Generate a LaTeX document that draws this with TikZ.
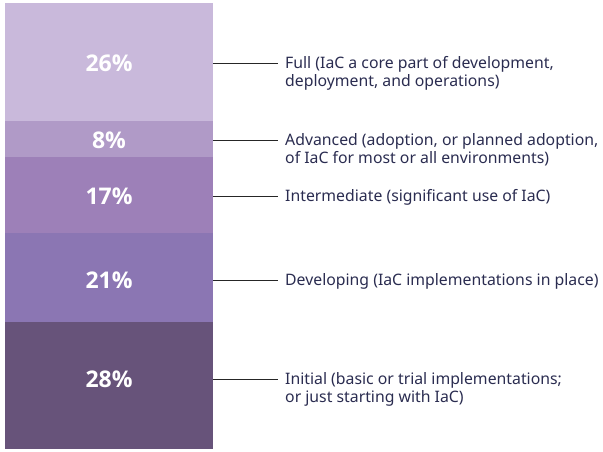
\documentclass[tikz,border=0pt]{standalone}
\usepackage{fontspec}
\setmainfont{Noto Sans}
\newfontfamily\pctfont{Open Sans}
\definecolor{lvFull}{HTML}{C9B9DB}
\definecolor{lvAdv}{HTML}{B09AC7}
\definecolor{lvInt}{HTML}{9D80B8}
\definecolor{lvDev}{HTML}{8B76B3}
\definecolor{lvIni}{HTML}{67537A}
\definecolor{lbltext}{HTML}{2A2C50}
\tikzset{
 bar/.style={rectangle, inner sep=0pt, outer sep=0pt, minimum width=208pt, anchor=north west},
 pct/.style={text=white, font=\pctfont\fontsize{23}{26}\selectfont\bfseries},
 leader/.style={draw=black!85, line width=0.8pt},
 lbl/.style={anchor=north west, inner sep=0pt, align=left, text=lbltext, font=\fontsize{15.8}{18}\selectfont}
}
\begin{document}
\begin{tikzpicture}[x=1pt, y=-1pt]
 \useasboundingbox (0,0) rectangle (603,451);
 \foreach \top/\bot/\col/\num/\ly/\txt [count=\i] in {
 3/121/lvFull/26/63/{Full (IaC a core part of development,\\deployment, and operations)},
 121/157/lvAdv/8/140/{Advanced (adoption, or planned adoption,\\of IaC for most or all environments)},
 157/233/lvInt/17/196/{Intermediate (significant use of IaC)},
 233/322/lvDev/21/280/{Developing (IaC implementations in place)},
 322/449/lvIni/28/379/{Initial (basic or trial implementations;\\or just starting with IaC)}}{
 \node[bar, fill=\col, minimum height={(\bot-\top)*1pt}] (seg\i) at (5,\top) {};
 \node[pct] (pct\i) at (109,\ly) {\num\%};
 \draw[leader] (seg\i.east |- pct\i) -- ++(65,0) coordinate (tip\i);
 \node[lbl] (lbl\i) at ([shift={(7,-6.5)}]tip\i) {\txt};
 }
\end{tikzpicture}
\end{document}
